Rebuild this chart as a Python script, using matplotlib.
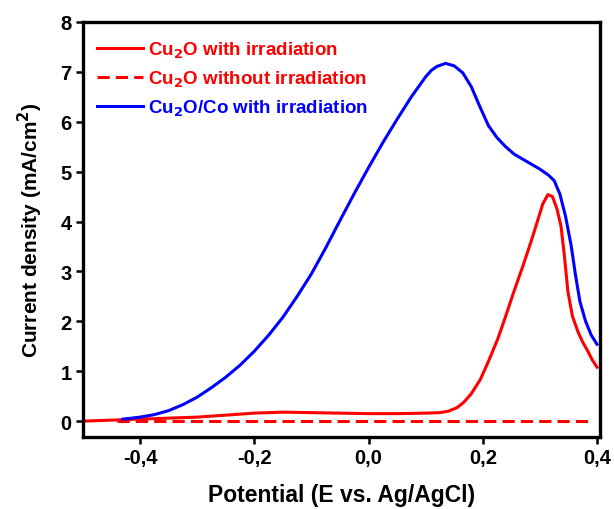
import matplotlib
matplotlib.use("Agg")
import matplotlib.pyplot as plt
from matplotlib.ticker import FuncFormatter

plt.rcParams['font.family'] = ['Liberation Sans', 'DejaVu Sans']
plt.rcParams['font.weight'] = 'bold'
plt.rcParams['mathtext.default'] = 'bf'

# Cu2O/Co with irradiation (blue)
blue_x = [-0.43, -0.40, -0.375, -0.35, -0.325, -0.30, -0.275, -0.25, -0.225, -0.20,
          -0.175, -0.15, -0.125, -0.10, -0.075, -0.05, -0.025, 0.0, 0.025, 0.05,
          0.075, 0.10, 0.11, 0.12, 0.135, 0.15, 0.165, 0.18, 0.195, 0.21, 0.225, 0.24,
          0.255, 0.27, 0.285, 0.30, 0.315, 0.325, 0.335, 0.345, 0.355, 0.362,
          0.37, 0.38, 0.39, 0.40]
blue_y = [0.04, 0.08, 0.13, 0.21, 0.33, 0.48, 0.67, 0.88, 1.12, 1.40,
          1.72, 2.08, 2.50, 2.95, 3.47, 4.02, 4.56, 5.08, 5.58, 6.05,
          6.50, 6.90, 7.03, 7.11, 7.17, 7.12, 6.98, 6.70, 6.30, 5.92, 5.68, 5.50,
          5.35, 5.25, 5.15, 5.05, 4.93, 4.82, 4.55, 4.10, 3.50, 2.95,
          2.40, 2.00, 1.72, 1.54]

# Cu2O with irradiation (red solid)
red_x = [-0.5, -0.45, -0.40, -0.35, -0.30, -0.25, -0.20, -0.15, -0.10, -0.05,
         0.0, 0.05, 0.10, 0.125, 0.14, 0.155, 0.167, 0.18, 0.196, 0.21, 0.226,
         0.24, 0.254, 0.27, 0.284, 0.295, 0.305, 0.314, 0.322, 0.33, 0.337,
         0.343, 0.349, 0.357, 0.367, 0.375, 0.384, 0.392, 0.40]
red_y = [0.0, 0.02, 0.04, 0.06, 0.08, 0.12, 0.16, 0.18, 0.17, 0.16,
         0.15, 0.15, 0.16, 0.17, 0.20, 0.27, 0.38, 0.55, 0.84, 1.20, 1.64,
         2.10, 2.58, 3.10, 3.58, 3.98, 4.35, 4.54, 4.50, 4.25, 3.90,
         3.30, 2.60, 2.10, 1.78, 1.58, 1.40, 1.22, 1.08]

# Cu2O without irradiation (red dashed)
dark_x = [-0.44, 0.39]
dark_y = [0.0, 0.0]

labels = ["Cu$_2$O with irradiation", "Cu$_2$O without irradiation",
          "Cu$_2$O/Co with irradiation"]
xticks = [-0.4, -0.2, 0.0, 0.2, 0.4]
yticks = [0, 1, 2, 3, 4, 5, 6, 7, 8]

fig = plt.figure(figsize=(6.14, 5.10), dpi=100)
ax = fig.add_axes([0.135, 0.141, 0.842, 0.814])

l1, = ax.plot(red_x, red_y, color='#ff0000', lw=2.2, label=labels[0])
l2, = ax.plot(dark_x, dark_y, color='#ff0000', lw=2.2, ls=(0, (4, 2)), label=labels[1])
l3, = ax.plot(blue_x, blue_y, color='#0000ff', lw=2.2, label=labels[2])

ax.set_xlim(-0.5, 0.405)
ax.set_ylim(-0.32, 8)
ax.set_xticks(xticks)
ax.set_yticks(yticks)
ax.xaxis.set_major_formatter(FuncFormatter(lambda v, p: f"{v:.1f}".replace('.', ',').replace('-0,0', '0,0')))
for s in ax.spines.values():
    s.set_linewidth(2.4)
ax.tick_params(direction='out', length=5, width=1.8, labelsize=14.5, pad=3)
for t in ax.get_xticklabels() + ax.get_yticklabels():
    t.set_fontweight('bold')

ax.set_xlabel("Potential (E vs. Ag/AgCl)", fontsize=16.5, fontweight='bold', labelpad=11.5)
ax.set_ylabel("Current density (mA/cm$^2$)", fontsize=15, fontweight='bold', labelpad=11)

leg = ax.legend(handles=[l1, l2, l3], loc='upper left', bbox_to_anchor=(14 / 517, 0.958),
                frameon=False, fontsize=13.5, handlelength=2.45, handletextpad=0.27,
                labelspacing=0.48, borderaxespad=0.0, borderpad=0.0)
for txt, ln in zip(leg.get_texts(), [l1, l2, l3]):
    txt.set_color(ln.get_color())
    txt.set_fontweight('bold')

fig.savefig("out.png", dpi=100)
